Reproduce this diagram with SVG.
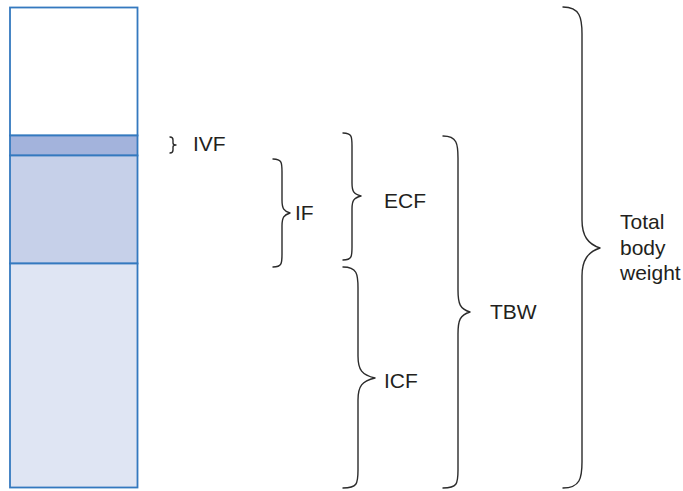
<svg xmlns="http://www.w3.org/2000/svg" width="683" height="491" viewBox="0 0 683 491">
<style>
.seg{stroke:#3479bf;stroke-width:1.8}
.brace{fill:none;stroke:#2b2b2b;stroke-width:1.4;stroke-linecap:round;stroke-linejoin:round}
.lbl{font-family:"Liberation Sans",Arial,sans-serif;font-size:21px;fill:#231f20}
</style>
<rect width="683" height="491" fill="#ffffff"/>
<g id="column">
<rect id="seg-top" class="seg" x="10" y="7.5" width="127.5" height="128" fill="#ffffff"/>
<rect id="seg-ivf" class="seg" x="10" y="135.5" width="127.5" height="20" fill="#a3b3dc"/>
<rect id="seg-if" class="seg" x="10" y="155.5" width="127.5" height="108" fill="#c6d0e9"/>
<rect id="seg-icf" class="seg" x="10" y="263.5" width="127.5" height="224" fill="#dfe5f3"/>
</g>
<g id="braces">
<path id="brace-ivf" class="brace" d="M170,137 Q173,137 173,140 L173,143 Q173,145 176,145 Q173,145 173,147 L173,150 Q173,153 170,153"/>
<path id="brace-if" class="brace" d="M273,159 C282,159 282,163 282,172 L282,200 C282,209 284,211 290,213 C284,215 282,217 282,226 L282,254 C282,263 282,267 273,267"/>
<path id="brace-ecf" class="brace" d="M343,133 C352,133 352,137 352,146 L352,183 C352,192 354,194 361,196 C354,198 352,200 352,209 L352,247 C352,256 352,260 343,260"/>
<path id="brace-icf" class="brace" d="M343,267 C357,267 358,274 358,288 L358,356 C358,370 362,375 375,378 C362,381 358,386 358,400 L358,470 C358,484 357,488 343,488"/>
<path id="brace-tbw" class="brace" d="M443,136 C457,136 458,144 458,158 L458,290 C458,304 460,309 470,312 C460,315 458,320 458,334 L458,470 C458,484 457,488 443,488"/>
<path id="brace-total" class="brace" d="M563,7 C580,7 582,18 582,34 L582,220 C582,236 588,244 600,248 C588,252 582,260 582,276 L582,462 C582,478 580,488 563,488"/>
</g>
<g id="labels">
<text id="t-ivf" class="lbl" x="193" y="151">IVF</text>
<text id="t-if" class="lbl" x="295" y="220">IF</text>
<text id="t-ecf" class="lbl" x="384" y="208">ECF</text>
<text id="t-icf" class="lbl" x="384" y="388">ICF</text>
<text id="t-tbw" class="lbl" x="490" y="319">TBW</text>
<text id="t-total" class="lbl" x="620"><tspan x="620" y="229">Total</tspan><tspan x="620" y="255">body</tspan><tspan x="620" y="280">weight</tspan></text>
</g>
</svg>
